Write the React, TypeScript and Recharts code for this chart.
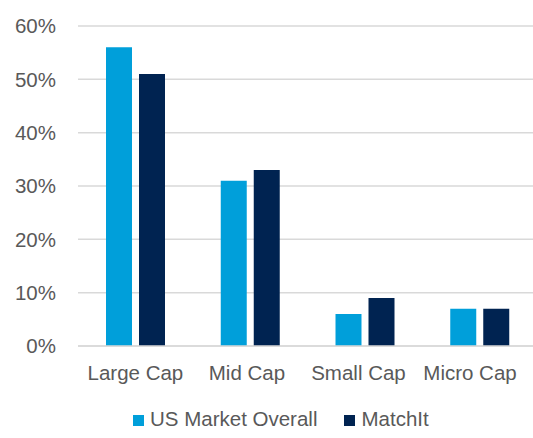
import React from "react";
import { BarChart, Bar, XAxis, YAxis, CartesianGrid, Legend } from "recharts";

const categories = ["Large Cap", "Mid Cap", "Small Cap", "Micro Cap"];
const usMarketOverall = [56, 31, 6, 7];
const matchIt = [51, 33, 9, 7];
const yTicks = [0, 10, 20, 30, 40, 50, 60];

const seriesNames = ["US Market Overall", "MatchIt"];
const seriesColors = ["#009FDA", "#002351"];

const data = categories.map((c, i) => ({
  category: c,
  us: usMarketOverall[i],
  matchit: matchIt[i],
}));

const TEXT = "#595959";
const FONT = "'Liberation Sans', Arial, sans-serif";
const FS = 20.5;

const CategoryTick = (props: any) => {
  const { x, y, payload, index } = props;
  return (
    <text x={x - 3.2 * (index ?? 0)} y={y} dy="0.71em" textAnchor="middle" fill={TEXT} fontSize={FS} fontFamily={FONT}>
      {payload.value}
    </text>
  );
};

const LegendContent = () => (
  <div style={{ display: "flex", flexDirection: "row", fontFamily: FONT, fontSize: FS, lineHeight: "20px", color: TEXT }}>
    {seriesNames.map((n, i) => (
      <div key={n} style={{ display: "flex", alignItems: "flex-start", marginRight: i === 0 ? 27 : 0 }}>
        <div style={{ width: 11, height: 11, background: seriesColors[i], marginTop: 6, marginRight: 6 }} />
        <span style={{ whiteSpace: "nowrap" }}>{n}</span>
      </div>
    ))}
  </div>
);

export default function App() {
  return (
    <div style={{ position: "fixed", left: 0, top: 0, width: 533, height: 438, background: "#fff", overflow: "hidden" }}>
      <BarChart
        width={533}
        height={438}
        data={data}
        margin={{ top: 26, right: 0, bottom: 42, left: 0 }}
        barGap={7}
        barSize={26}
      >
        <CartesianGrid vertical={false} stroke="#D9D9D9" strokeWidth={1.5} />
        <XAxis
          dataKey="category"
          tickLine={false}
          axisLine={{ stroke: "#D9D9D9", strokeWidth: 1.5 }}
          tickSize={0}
          tickMargin={19}
          tick={<CategoryTick />}
          interval={0}
          padding={{ left: 0, right: -4 }}
        />
        <YAxis
          width={78}
          domain={[0, 60]}
          ticks={yTicks}
          tickFormatter={(v) => `${v}%`}
          tickLine={false}
          axisLine={false}
          tickSize={0}
          tickMargin={22}
          tick={{ fill: TEXT, fontSize: FS, fontFamily: FONT }}
        />
        <Legend
          content={<LegendContent />}
          wrapperStyle={{ position: "absolute", left: 133, top: 409, width: "auto", bottom: "auto" }}
        />
        <Bar dataKey="us" name={seriesNames[0]} fill={seriesColors[0]} isAnimationActive={false} />
        <Bar dataKey="matchit" name={seriesNames[1]} fill={seriesColors[1]} isAnimationActive={false} />
      </BarChart>
    </div>
  );
}
